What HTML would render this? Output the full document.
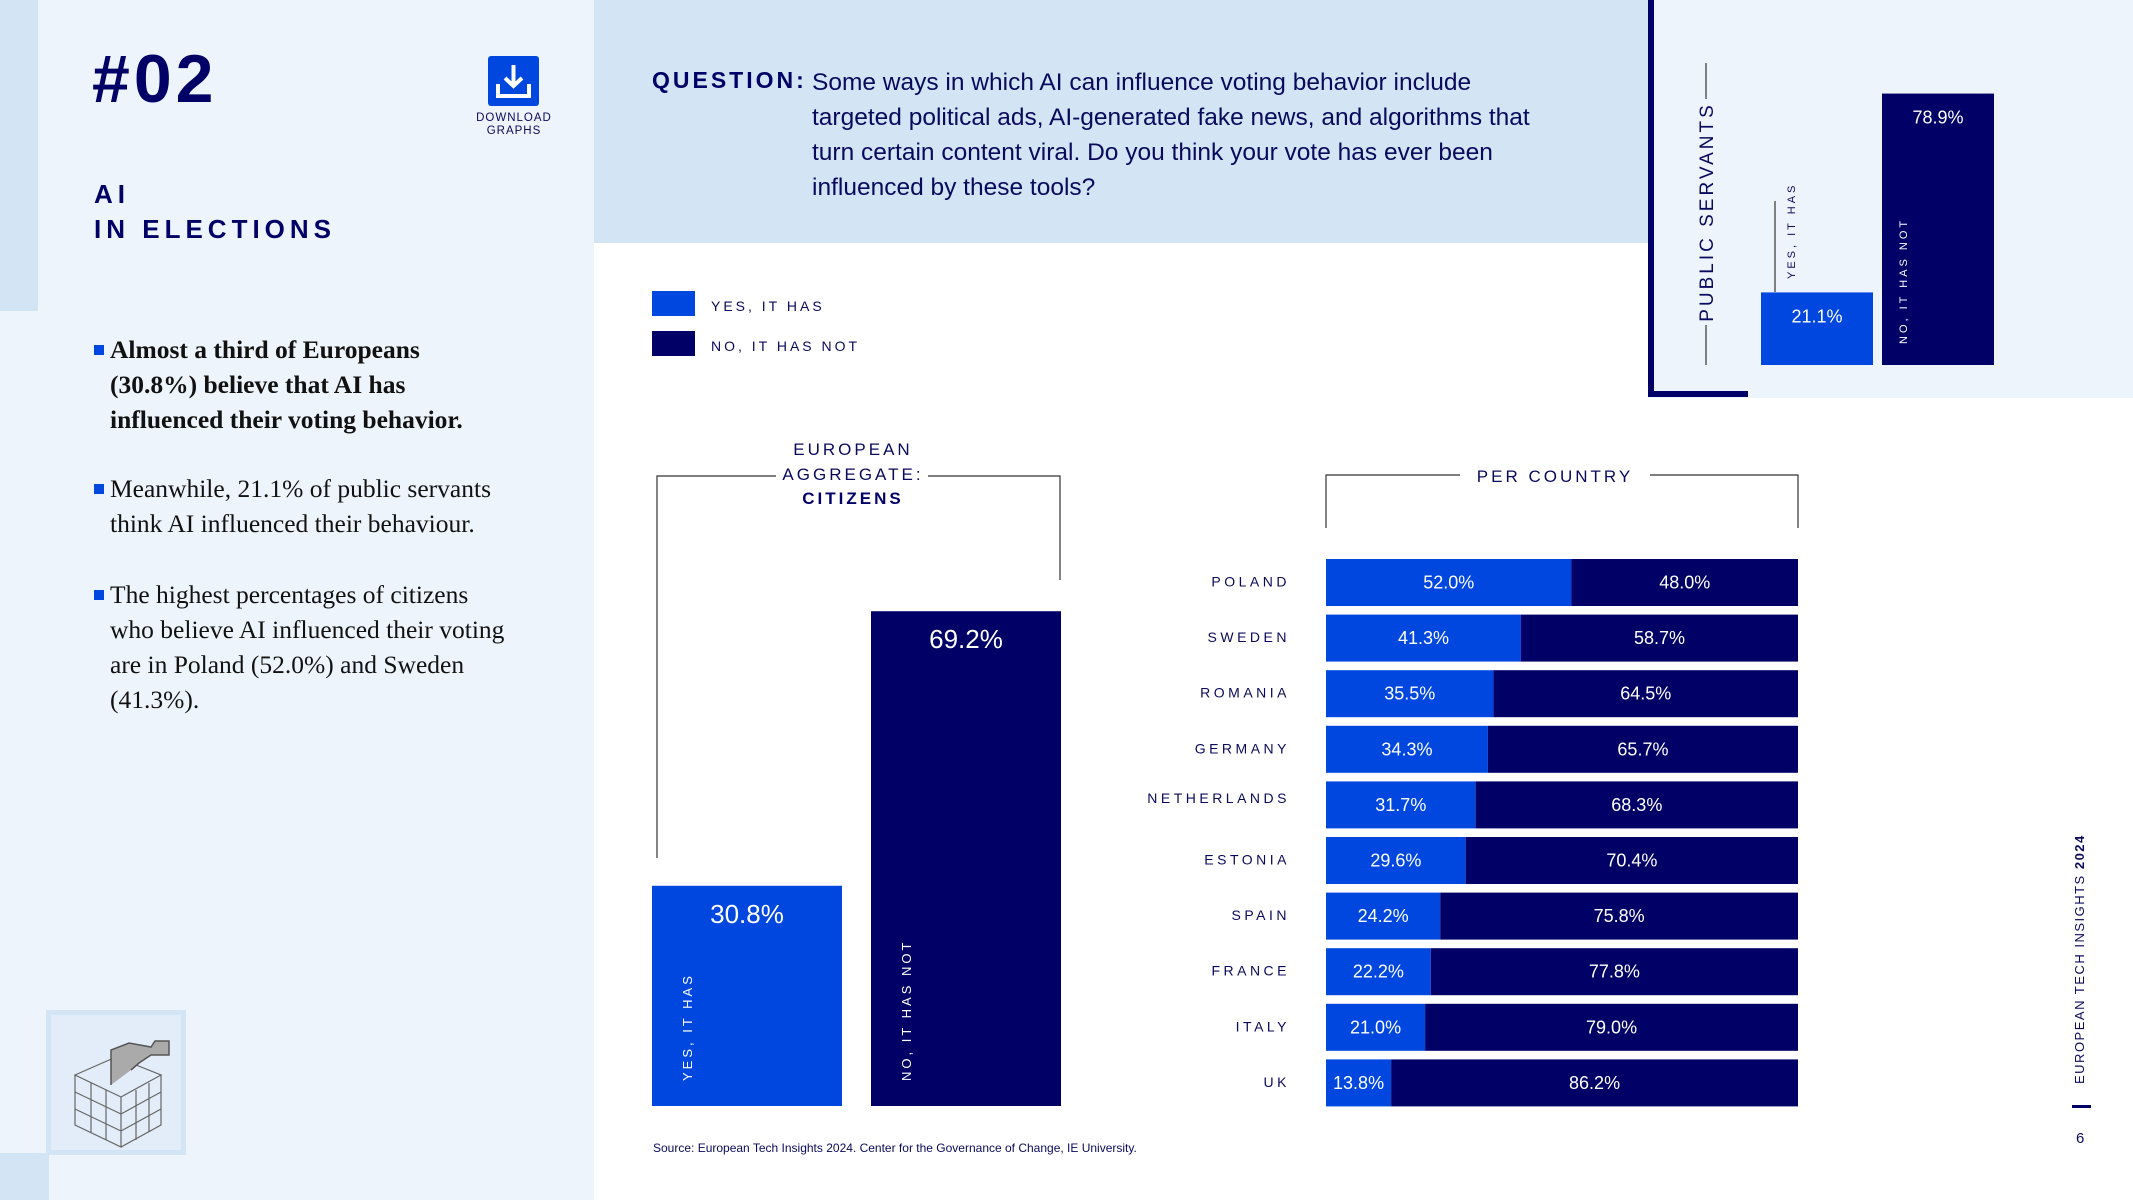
<!DOCTYPE html>
<html><head><meta charset="utf-8">
<style>
*{margin:0;padding:0;box-sizing:border-box}
body{width:2133px;height:1200px;position:relative;overflow:hidden;background:#fff;font-family:"Liberation Sans",sans-serif;color:#0a0a5c}
.abs{position:absolute}
.sp{letter-spacing:3px}
</style></head><body>
<div class="abs" style="left:0;top:0;width:594px;height:1200px;background:#eef4fc"></div>
<div class="abs" style="left:0;top:0;width:38px;height:311px;background:#d3e4f5"></div>
<div class="abs" style="left:0;top:1153px;width:49px;height:47px;background:#d3e4f5"></div>
<div class="abs" style="left:594px;top:0;width:1060px;height:243px;background:#d3e4f5"></div>
<div class="abs" style="left:1648px;top:0;width:485px;height:398px;background:#eef4fc"></div>
<div class="abs" style="left:1648px;top:0;width:6px;height:397px;background:#000066"></div>
<div class="abs" style="left:1648px;top:391px;width:100px;height:6px;background:#000066"></div>

<div class="abs" style="left:92px;top:40px;font-size:68px;font-weight:900;letter-spacing:4px;color:#000066">#02</div>
<div class="abs" style="left:488px;top:56px;width:51px;height:50px;background:#0047e0;border-radius:3px">
<svg width="51" height="50" viewBox="0 0 51 50"><path d="M25.5 9 V30 M17 22 L25.5 30 L34 22" stroke="#fff" stroke-width="4" fill="none"/><path d="M10 28 V40 H41 V28" stroke="#fff" stroke-width="4" fill="none"/></svg></div>
<div class="abs" style="left:460px;top:112px;width:108px;text-align:center;font-size:11.5px;line-height:13px;letter-spacing:1px">DOWNLOAD<br>GRAPHS</div>
<div class="abs" style="left:94px;top:177px;font-size:26px;font-weight:900;line-height:35px;letter-spacing:5px;color:#000066">AI<br>IN ELECTIONS</div>

<div class="abs" style="left:94px;top:332px;width:480px;font-family:'Liberation Serif',serif;font-size:25.5px;line-height:35px;color:#111;white-space:nowrap">
<div style="position:relative;padding-left:16px;font-weight:bold;margin-bottom:34px"><span style="position:absolute;left:0;top:13px;width:10px;height:10px;background:#0047e0"></span>Almost a third of Europeans<br>(30.8%) believe that AI has<br>influenced their voting behavior.</div>
<div style="position:relative;padding-left:16px;margin-bottom:36px"><span style="position:absolute;left:0;top:13px;width:10px;height:10px;background:#0047e0"></span>Meanwhile, 21.1% of public servants<br>think AI influenced their behaviour.</div>
<div style="position:relative;padding-left:16px"><span style="position:absolute;left:0;top:13px;width:10px;height:10px;background:#0047e0"></span>The highest percentages of citizens<br>who believe AI influenced their voting<br>are in Poland (52.0%) and Sweden<br>(41.3%).</div>
</div>

<div class="abs" style="left:46px;top:1010px;width:140px;height:145px;border:5px solid #d3e4f5;background:#e3edf9">
<svg width="130" height="135" viewBox="0 0 130 135"><g stroke="#666" fill="none" stroke-width="1.2"><path d="M24 60 L65 42 L110 60 L70 82 Z"/><path d="M24 60 V110 L70 132 V82 M110 60 V110 L70 132"/><path d="M24 77 L70 99 L110 77 M24 94 L70 116 L110 94 M40 68 V118 M55 75 V125 M85 75 V125 M98 68 V117"/></g><path d="M60 70 L60 35 L78 28 L100 32 L104 26 L118 26 L118 40 L100 40 L88 48 L80 55" stroke="#555" fill="#aaa" stroke-width="1.5"/></svg></div>

<div class="abs" style="left:652px;top:67px;font-size:23px;font-weight:bold;letter-spacing:3px;color:#000066">QUESTION:</div>
<div class="abs" style="left:812px;top:65px;width:820px;font-size:24.5px;line-height:35px;color:#0a0a5c;white-space:nowrap">Some ways in which AI can influence voting behavior include<br>targeted political ads, AI-generated fake news, and algorithms that<br>turn certain content viral. Do you think your vote has ever been<br>influenced by these tools?</div>

<div class="abs" style="left:652px;top:291px;width:43px;height:25px;background:#0047e0"></div>
<div class="abs sp" style="left:711px;top:298px;font-size:14px">YES, IT HAS</div>
<div class="abs" style="left:652px;top:331px;width:43px;height:25px;background:#000066"></div>
<div class="abs sp" style="left:711px;top:338px;font-size:14px">NO, IT HAS NOT</div>

<div class="abs sp" style="left:753px;top:438px;width:200px;text-align:center;font-size:17px;line-height:24.5px;background:#fff">EUROPEAN<br>AGGREGATE:<br><b style="color:#000066">CITIZENS</b></div>
<div class="abs sp" style="left:1460px;top:467px;width:190px;text-align:center;font-size:17px;background:#fff">PER COUNTRY</div>

<div class="abs sp" style="left:653px;top:1141px;font-size:12px;letter-spacing:0">Source: European Tech Insights 2024. Center for the Governance of Change, IE University.</div>
<div class="abs" style="left:2072px;top:1084px;transform:rotate(-90deg);transform-origin:0 0;font-size:13px;letter-spacing:1.5px;white-space:nowrap">EUROPEAN TECH INSIGHTS <b>2024</b></div>
<div class="abs" style="left:2072px;top:1105px;width:19px;height:3px;background:#000066"></div>
<div class="abs" style="left:2076px;top:1130px;font-size:15px">6</div>

<svg id="charts" class="abs" style="left:0;top:0" width="2133" height="1200"></svg>

<script>
const countries=["POLAND","SWEDEN","ROMANIA","GERMANY","NETHERLANDS","ESTONIA","SPAIN","FRANCE","ITALY","UK"];
const yesVals=[52.0,41.3,35.5,34.3,31.7,29.6,24.2,22.2,21.0,13.8];
const noVals=[48.0,58.7,64.5,65.7,68.3,70.4,75.8,77.8,79.0,86.2];
const aggCats=["YES, IT HAS","NO, IT HAS NOT"];
const aggVals=[30.8,69.2];
const psCats=["YES, IT HAS","NO, IT HAS NOT"];
const psVals=[21.1,78.9];

const NS="http://www.w3.org/2000/svg";
const svg=document.getElementById('charts');
const YES="#0047e0",NO="#000066";
function mk(tag,attrs,parent){const e=document.createElementNS(NS,tag);for(const k in attrs)e.setAttribute(k,attrs[k]);(parent||svg).appendChild(e);return e;}
function txt(s,attrs){const t=mk('text',Object.assign({'font-family':'Liberation Sans, sans-serif'},attrs));t.textContent=s;return t;}

mk('path',{d:'M657 858 V476 H776 M928 476 H1060 V580',stroke:'#333',fill:'none','stroke-width':1.2});
mk('path',{d:'M1326 528 V475 H1460 M1650 475 H1798 V528',stroke:'#333',fill:'none','stroke-width':1.2});
mk('path',{d:'M1706 63 V99 M1706 325 V365',stroke:'#333',fill:'none','stroke-width':1.2});
mk('path',{d:'M1775 201 V292',stroke:'#333',fill:'none','stroke-width':1.2});
txt('PUBLIC SERVANTS',{x:0,y:0,transform:'translate(1713,212) rotate(-90)','text-anchor':'middle','font-size':19,'letter-spacing':3,fill:'#0a0a5c'});

const aggBase=1106, aggScale=7.15, aggX=[652,871], aggW=190;
aggVals.forEach((v,i)=>{
  const h=v*aggScale;
  const r=mk('rect',{x:aggX[i],y:aggBase-h,width:aggW,height:h,fill:i?NO:YES});
  
  
  txt(v.toFixed(1)+'%',{x:aggX[i]+aggW/2,y:aggBase-h+37,'text-anchor':'middle','font-size':26,fill:'#fff'});
  txt(aggCats[i],{x:0,y:0,transform:`translate(${aggX[i]+40},${aggBase-25}) rotate(-90)`,'font-size':13,'letter-spacing':3,fill:'#fff'});
});

const psBase=365, psScale=3.44, psX=[1761,1882], psW=112;
psVals.forEach((v,i)=>{
  const h=v*psScale;
  const r=mk('rect',{x:psX[i],y:psBase-h,width:psW,height:h,fill:i?NO:YES});
  
  
  txt(v.toFixed(1)+'%',{x:psX[i]+psW/2,y:psBase-h+30,'text-anchor':'middle','font-size':18,fill:'#fff'});
});
txt(psCats[0],{x:0,y:0,transform:'translate(1795,279) rotate(-90)','font-size':11,'letter-spacing':3,fill:'#0a0a5c'});
txt(psCats[1],{x:0,y:0,transform:'translate(1907,344) rotate(-90)','font-size':11,'letter-spacing':3,fill:'#fff'});

const cx0=1326, cW=472, rowTop=559, rowStep=55.6, rowH=47;
const xs=v=>v/100*cW;
countries.forEach((c,i)=>{
  const y=rowTop+i*rowStep;
  const wy=xs(yesVals[i]), wn=xs(noVals[i]);
  const a=mk('rect',{x:cx0,y:y,width:wy,height:rowH,fill:YES});
  
  
  const b=mk('rect',{x:cx0+wy,y:y,width:wn,height:rowH,fill:NO});
  
  
  txt(yesVals[i].toFixed(1)+'%',{x:cx0+wy/2,y:y+rowH/2+6,'text-anchor':'middle','font-size':18,fill:'#fff'});
  txt(noVals[i].toFixed(1)+'%',{x:cx0+wy+wn/2,y:y+rowH/2+6,'text-anchor':'middle','font-size':18,fill:'#fff'});
  const l=txt(c,{x:1290,y:y+rowH/2+(i==4?-2:4),'text-anchor':'end','font-size':14,'letter-spacing':3.5,fill:'#0a0a5c'});
  
  
});
</script>
</body></html>
